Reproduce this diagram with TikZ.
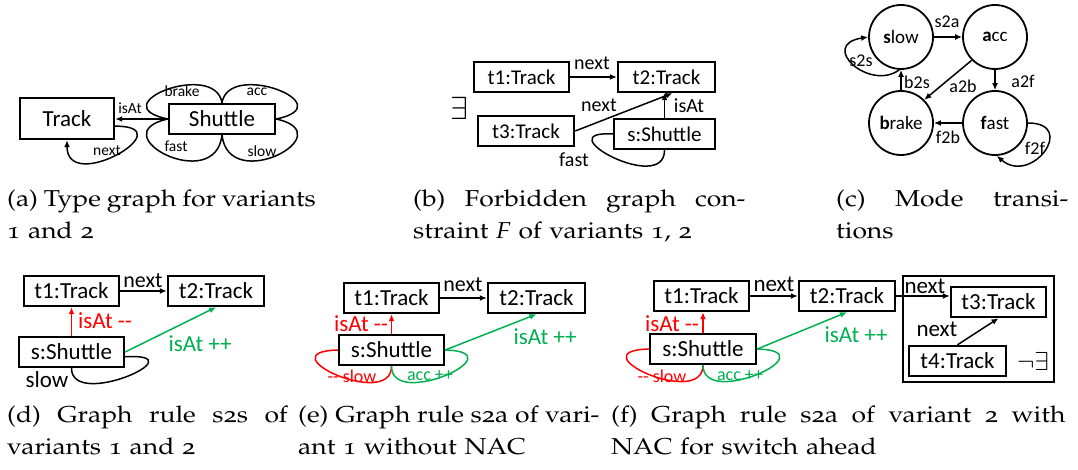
\documentclass[tikz,border=0pt]{standalone}
\usepackage[T1]{fontenc}
\usepackage{graphicx}
\usepackage{fontspec}
\newfontfamily\calfont{Carlito}
\usetikzlibrary{arrows.meta}
\definecolor{delred}{RGB}{255,0,0}
\definecolor{addgreen}{RGB}{0,176,80}
\newcommand\dfont[1]{\calfont\fontsize{#1}{#1}\selectfont}
\newcommand\capfont{\fontencoding{T1}\fontfamily{pplj}\fontsize{23}{32}\selectfont}
\newcommand\twolines[3]{\scalebox{1.15}[1]{\parbox[t]{#1}{\hbox to #1{#2}\hbox{#3}}}}

\begin{document}
\begin{tikzpicture}[x=1pt, y=-1pt,
  obj/.style={draw, line width=2.4pt, minimum height=30pt, inner sep=0pt, font=\dfont{23}},
  arr/.style={-{Latex[length=7pt,width=6pt]}, line width=1.5pt},
  lnk/.style={line width=1.5pt},
  lbl/.style={inner sep=0pt, font=\dfont{23}},
  mode/.style={circle, draw, line width=1.8pt, minimum size=64pt, inner sep=0pt, font=\dfont{19}},
  captext/.style={anchor=base west, inner sep=0pt, font=\capfont}]
\useasboundingbox (0,0) rectangle (1078,470);

\node[obj, minimum width=94pt, minimum height=41pt] (trk) at (67,118.5) {Track};
\node[obj, minimum width=106pt] (sht) at (222,119) {Shuttle};
\draw[arr] (sht.west) -- (sht.west -| trk.east);
\draw[arr] (trk.-9) .. controls +(70,0) and +(0,55) .. (trk.south);
\draw[lnk] (sht.west) .. controls +(-68,-14) and +(-7,-43) .. (sht.north);
\draw[lnk] (sht.east) .. controls +(68,-14) and +(7,-43) .. (sht.north);
\draw[lnk] (sht.west) .. controls +(-68,15) and +(-7,60) .. (sht.south);
\draw[lnk] (sht.east) .. controls +(68,15) and +(7,60) .. (sht.south);
\node[lbl, font=\dfont{15.5}] (isat-a) at (130,108) {isAt};
\node[lbl, font=\dfont{15.5}] (next-a) at (107,151) {next};
\node[lbl, font=\dfont{15.5}] (brake-a) at (182,91) {brake};
\node[lbl, font=\dfont{15.5}] (acc-a) at (257,92) {acc};
\node[lbl, font=\dfont{15.5}] (fast-a) at (176,146) {fast};
\node[lbl, font=\dfont{15.5}] (slow-a) at (262,151) {slow};

\node[lbl, font=\dfont{10}] (ex-b) at (459,108) {\scalebox{3.2}{$\exists$}};
\node[obj, minimum width=95pt, font=\dfont{21}] (t1b) at (521.5,77) {t1:Track};
\node[obj, minimum width=97pt, font=\dfont{21}] (t2b) at (666.5,77) {t2:Track};
\node[obj, minimum width=96pt, font=\dfont{21}] (t3b) at (526,131) {t3:Track};
\node[obj, minimum width=101pt, font=\dfont{21}] (sb) at (664.5,134) {s:Shuttle};
\draw[arr] (t1b) -- (t2b);
\draw[arr] (t3b.east) -- (t2b.-70);
\draw[arr] (sb.north) -- (sb.north |- t2b.south);
\draw[lnk] (sb.west) .. controls +(-68,-4) and +(0,45) .. (sb.south);
\node[lbl, font=\dfont{20}] (next1-b) at (592,63) {next};
\node[lbl, font=\dfont{20}] (next2-b) at (599,105) {next};
\node[lbl, font=\dfont{20}] (isat-b) at (689,106) {isAt};
\node[lbl, font=\dfont{20}] (fast-b) at (574,160) {fast};

\node[mode] (slow) at (901,37) {\textbf{s}low};
\node[mode] (acc) at (995,37) {\textbf{a}cc};
\node[mode] (brake) at (901,123) {\textbf{b}rake};
\node[mode] (fast) at (995,123) {\textbf{f}ast};
\draw[arr] (slow) -- (acc);
\draw[arr] (acc) -- (fast);
\draw[arr] (acc.225) -- (brake.45);
\draw[arr] (brake) -- (slow);
\draw[arr] (fast) -- (brake);
\draw[arr] (slow.-93) .. controls +(-30,22) and +(-50,8) .. (slow.west);
\draw[arr] (fast.east) .. controls +(50,0) and +(35,30) .. (fast.-87);
\node[lbl, font=\dfont{18}] (s2a) at (947,22) {s2a};
\node[lbl, font=\dfont{18}] (a2f) at (1023,81) {a2f};
\node[lbl, font=\dfont{18}] (a2b) at (963,86) {a2b};
\node[lbl, font=\dfont{18}] (b2s) at (917,82) {b2s};
\node[lbl, font=\dfont{18}] (f2b) at (948,137) {f2b};
\node[lbl, font=\dfont{18}] (s2s) at (861,61) {s2s};
\node[lbl, font=\dfont{18}] (f2f) at (1035,148) {f2f};

\node[obj, minimum width=95pt] (t1d) at (71.5,291) {t1:Track};
\node[obj, minimum width=96pt] (t2d) at (216,291) {t2:Track};
\node[obj, minimum width=105pt] (sd) at (71.5,352) {s:Shuttle};
\draw[arr] (t1d) -- (t2d);
\draw[arr, delred] (sd) -- (t1d);
\draw[arr, addgreen] (sd.east) -- (t2d.south);
\draw[lnk] (sd.south) .. controls +(0,42) and +(75,-4) .. (sd.-5);
\node[lbl, font=\dfont{22}] (next-d) at (143,281) {next};
\node[lbl, text=delred] (isat1-d) at (105,321) {isAt -{}-};
\node[lbl, text=addgreen] (isat2-d) at (200,344) {isAt ++};
\node[lbl] (slow-d) at (47,380) {slow};

\node[obj, minimum width=95pt] (t1e) at (391.5,298) {t1:Track};
\node[obj, minimum width=97pt] (t2e) at (536.5,298) {t2:Track};
\node[obj, minimum width=105pt] (se) at (391.5,350) {s:Shuttle};
\draw[arr] (t1e) -- (t2e);
\draw[arr, delred] (se) -- (t1e);
\draw[arr, addgreen] (se.east) -- (t2e.south);
\draw[lnk, delred] (se.west) .. controls +(-73,2) and +(0,44) .. (se.south);
\draw[lnk, addgreen] (se.south) .. controls +(0,44) and +(73,2) .. (se.east);
\node[lbl, font=\dfont{22}] (next-e) at (463,285) {next};
\node[lbl, text=delred] (isat1-e) at (361,324) {isAt -{}-};
\node[lbl, text=addgreen] (isat2-e) at (545,337) {isAt ++};
\node[lbl, font=\dfont{18}, text=delred] (slow-e) at (352,376) {-{}- slow};
\node[lbl, font=\dfont{18}, text=addgreen] (acc-e) at (430,376) {acc ++};

\node[obj, minimum width=95pt] (t1f) at (701.5,296) {t1:Track};
\node[obj, minimum width=96pt] (t2f) at (847,296) {t2:Track};
\node[obj, minimum width=106pt] (sf) at (703,349) {s:Shuttle};
\draw[arr] (t1f) -- (t2f);
\draw[arr, delred] (sf.north) -- (sf.north |- t1f.south);
\draw[arr, addgreen] (sf.east) -- (t2f.south);
\draw[lnk, delred] (sf.west) .. controls +(-73,2) and +(0,44) .. (sf.south);
\draw[lnk, addgreen] (sf.south) .. controls +(0,44) and +(73,2) .. (sf.east);
\node[draw, line width=2.4pt, minimum width=151pt, minimum height=106pt, inner sep=0pt] (nac) at (978.5,329) {};
\node[obj, minimum width=95pt] (t3f) at (998.5,302) {t3:Track};
\node[obj, minimum width=97pt] (t4f) at (957.5,361) {t4:Track};
\draw[arr] (t2f.east) -- (t2f.east -| t3f.west);
\draw[arr] (t4f.north) -- (t3f.south);
\node[lbl] (next1-f) at (774,284) {next};
\node[lbl] (next2-f) at (925,286) {next};
\node[lbl] (next3-f) at (937,329) {next};
\node[lbl, text=delred] (isat1-f) at (672,324) {isAt -{}-};
\node[lbl, text=addgreen] (isat2-f) at (856,335) {isAt ++};
\node[lbl, font=\dfont{18}, text=delred] (slow-f) at (662,376) {-{}- slow};
\node[lbl, font=\dfont{18}, text=addgreen] (acc-f) at (740,376) {acc ++};
\node[lbl, font=\dfont{10}] (nex-f) at (1033,361) {\scalebox{2.6}{$\neg\exists$}};

\node[captext] (capa) at (7,207) {\twolines{267pt}{(a) Type graph for variants}{1 and 2}};
\node[captext] (capb) at (413,207) {\twolines{289pt}{(b) Forbidden graph con-}{straint \textit{F} of variants 1, 2}};
\node[captext] (capc) at (836,207) {\twolines{202pt}{(c) Mode transi-}{tions}};
\node[captext] (capd) at (7,422) {\twolines{244pt}{(d) Graph rule s2s of}{variants 1 and 2}};
\node[captext] (cape) at (298,422) {\twolines{262pt}{(e) Graph rule s2a of vari-}{ant 1 without NAC}};
\node[captext] (capf) at (611,422) {\twolines{395pt}{(f) Graph rule s2a of variant 2 with}{NAC for switch ahead}};
\end{tikzpicture}
\end{document}
